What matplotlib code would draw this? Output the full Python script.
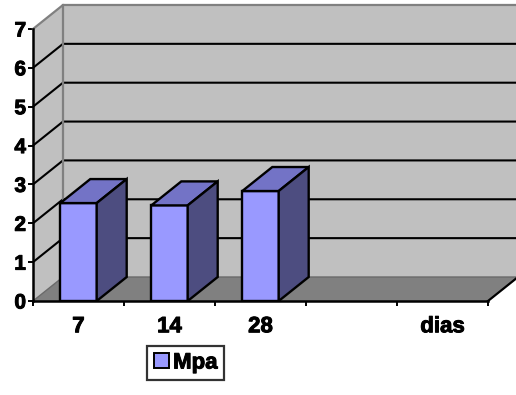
import matplotlib
matplotlib.use("Agg")
import matplotlib.pyplot as plt
import matplotlib.patheffects as pe
from matplotlib.patches import Polygon, Patch

# Data
categories = ["7", "14", "28", "", "dias"]
mpa_values = [2.52, 2.46, 2.83]
y_ticks = [0, 1, 2, 3, 4, 5, 6, 7]
series_name = "Mpa"

plt.rcParams["font.family"] = ["Liberation Sans", "DejaVu Sans"]
plt.rcParams["font.weight"] = "bold"

W, H = 516, 395
fig = plt.figure(figsize=(W / 100, H / 100), dpi=100)

# Plot area: front-left axis corner at pixel (33, 301)
px_cat = 91.0      # pixels per category
px_val = 38.86     # pixels per value unit
x0_px, y0_px = 33, 301
ax = fig.add_axes([x0_px / W, (H - y0_px) / H, (W - x0_px) / W, y0_px / H])
ax.set_xlim(0, (W - x0_px) / px_cat)
ax.set_ylim(0, y0_px / px_val)
ax.patch.set_visible(False)

# 3D depth offset in data units
DX = 30 / px_cat
DY = 24 / px_val
ncat = len(categories)
ymax = y_ticks[-1]
xr = ax.get_xlim()[1] + 1

wall_c = "#C0C0C0"
floor_c = "#808080"
edge_c = "#808080"

# Back wall and side wall
ax.add_patch(Polygon([(DX, DY), (xr, DY), (xr, ymax + DY), (DX, ymax + DY)],
                     closed=True, facecolor=wall_c, edgecolor="none", zorder=1))
ax.add_patch(Polygon([(0, 0), (DX, DY), (DX, ymax + DY), (0, ymax)],
                     closed=True, facecolor=wall_c, edgecolor="none", zorder=1))

# Gridlines across side wall and back wall
for v in y_ticks[1:-1]:
    ax.plot([0, DX, xr], [v, v + DY, v + DY], color="black", lw=1.5,
            solid_capstyle="butt", zorder=2, clip_on=False)

# Wall edges
ax.plot([0, DX, xr], [ymax, ymax + DY, ymax + DY], color=edge_c, lw=1.6,
        zorder=2, clip_on=False)
ax.plot([DX, DX], [DY, ymax + DY], color=edge_c, lw=1.6, zorder=2)

# Floor
ax.add_patch(Polygon([(0, 0), (ncat, 0), (ncat + DX, DY), (DX, DY)],
                     closed=True, facecolor=floor_c, edgecolor="none", zorder=3))
ax.plot([0, DX, xr], [0, DY, DY], color="#6a6a6a", lw=1.0, zorder=3)
ax.plot([ncat, ncat + DX], [0, DY], color="black", lw=1.6, zorder=3,
        clip_on=False)

# Bars
bar_w = 0.4
front_c, top_c, side_c = "#9999FF", "#7373C6", "#4D4D80"
for i, v in enumerate(mpa_values):
    xl = i + 0.5 - bar_w / 2
    xr_b = xl + bar_w
    z = 5 + i
    kw = dict(closed=True, edgecolor="black", lw=1.7, joinstyle="miter", zorder=z)
    ax.add_patch(Polygon([(xl, 0), (xr_b, 0), (xr_b, v), (xl, v)], facecolor=front_c, **kw))
    ax.add_patch(Polygon([(xl, v), (xr_b, v), (xr_b + DX, v + DY), (xl + DX, v + DY)],
                         facecolor=top_c, **kw))
    ax.add_patch(Polygon([(xr_b, 0), (xr_b + DX, DY), (xr_b + DX, v + DY), (xr_b, v)],
                         facecolor=side_c, **kw))

# Axes lines and ticks
for s in ["top", "right"]:
    ax.spines[s].set_visible(False)
ax.spines["left"].set_bounds(0, ymax)
ax.spines["bottom"].set_bounds(0, ncat)
for s in ["left", "bottom"]:
    ax.spines[s].set_linewidth(1.8)
    ax.spines[s].set_zorder(10)

ax.set_yticks(y_ticks)
ax.set_yticklabels([str(t) for t in y_ticks])
ax.tick_params(axis="y", direction="out", length=3.5, width=1.4, pad=1.5,
               labelsize=15)

ax.set_xticks(range(ncat + 1))
ax.set_xticklabels([])
ax.set_xticks([i + 0.5 for i in range(ncat)], minor=True)
ax.set_xticklabels(categories, minor=True)
ax.tick_params(axis="x", which="major", direction="out", length=3.5, width=1.4)
ax.tick_params(axis="x", which="minor", length=0, pad=11, labelsize=16)

heavy = [pe.withStroke(linewidth=0.7, foreground="black")]
for lbl in ax.get_xticklabels(minor=True) + ax.get_yticklabels():
    lbl.set_fontweight("bold")
    lbl.set_path_effects(heavy)

# Legend
handle = Patch(facecolor=front_c, edgecolor="black", linewidth=1.4, label=series_name)
leg = fig.legend(handles=[handle], loc="center", bbox_to_anchor=(185.5 / W, 1 - 363 / H),
                 frameon=True, fancybox=False, fontsize=16, handlelength=0.68,
                 handleheight=0.68, handletextpad=0.2, borderpad=0.28,
                 borderaxespad=0)
leg.get_frame().set_edgecolor("black")
leg.get_frame().set_linewidth(1.6)
for t in leg.get_texts():
    t.set_fontweight("bold")
    t.set_path_effects(heavy)

fig.savefig("out.png", dpi=100, facecolor="white")
